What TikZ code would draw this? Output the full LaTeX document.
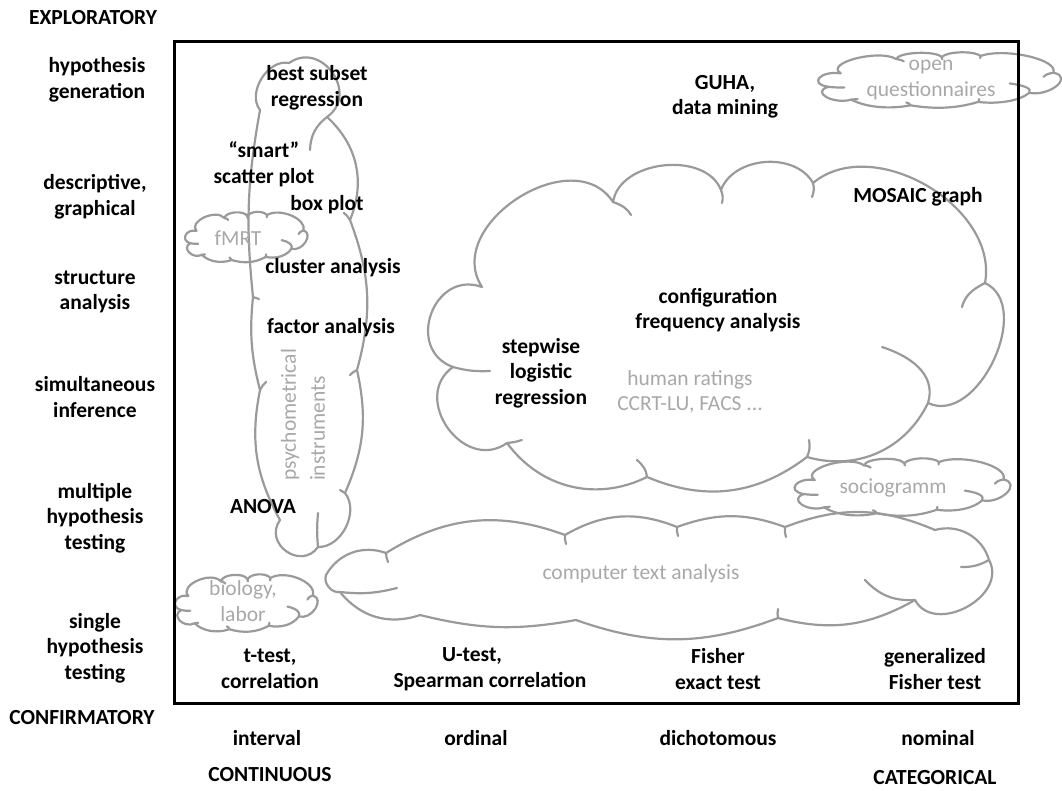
\documentclass[tikz,border=0pt]{standalone}
\usepackage{fontspec}
\setmainfont{Carlito}
\definecolor{cloudline}{HTML}{9A9A9A}
\definecolor{softtext}{HTML}{A8A8A8}
% A ten-lobed cloud in a unit box centred on the origin (v grows downward);
% scale it with xscale/yscale to the wanted width and height.
\tikzset{
  pics/puffcloud/.style={code={
    \draw[outline] (-0.4058,-0.1208)
      .. controls (-0.4754,-0.3092) and (-0.2468,-0.5691) .. (-0.1771,-0.3807)
      .. controls (-0.1660,-0.5093) and (-0.0157,-0.5385) .. (0.0113,-0.4174)
      .. controls (0.0335,-0.5208) and (0.1410,-0.5352) .. (0.1719,-0.4388)
      .. controls (0.2763,-0.5914) and (0.4962,-0.3676) .. (0.4721,-0.1330)
      .. controls (0.5581,-0.0615) and (0.4586,0.3055) .. (0.3726,0.2339)
      .. controls (0.3330,0.3765) and (0.2485,0.4428) .. (0.1614,0.3991)
      .. controls (0.0736,0.5156) and (-0.0164,0.5352) .. (-0.1178,0.4602)
      .. controls (-0.2059,0.5367) and (-0.3038,0.4951) .. (-0.3621,0.3563)
      .. controls (-0.4373,0.4498) and (-0.5316,0.2174) .. (-0.4564,0.1239)
      .. controls (-0.5410,0.0700) and (-0.4904,-0.1746) .. (-0.4058,-0.1208);
    \draw[outline] (-0.1771,-0.3807) to[bend left=20] (-0.1457,-0.3410);
    \draw[outline] (0.0113,-0.4174) to[bend left=10] (0.0131,-0.3777);
    \draw[outline] (0.1719,-0.4388) to[bend left=10] (0.1702,-0.3960);
    \draw[outline] (0.4721,-0.1330) to[bend right=20] (0.4319,-0.0596);
    \draw[outline] (0.3726,0.2339) to[bend right=35] (0.2923,0.0627);
    \draw[outline] (0.1614,0.3991) to[bend right=10] (0.1649,0.3471);
    \draw[outline] (-0.1178,0.4602) to[bend right=15] (-0.1353,0.4083);
    \draw[outline] (-0.3621,0.3563) to[bend right=10] (-0.3360,0.3471);
    \draw[outline] (-0.4564,0.1239) to[bend right=15] (-0.3918,0.1361);
  }}
}
\begin{document}
\begin{tikzpicture}[x=1pt,y=-1pt,
  lbl/.style={font=\fontsize{21.5}{25.5}\selectfont\bfseries, align=center, inner sep=0pt},
  note/.style={font=\fontsize{21.5}{25.5}\selectfont, text=softtext, align=center, inner sep=0pt},
  outline/.style={draw=cloudline, line width=2.2pt, line join=round, line cap=round},
  frame/.style={draw=black, line width=3pt},
]
\useasboundingbox (0,0) rectangle (1062,790);

% ---- large central cloud and the small ones
\pic[xscale=573, yscale=327] (bigcloud) at (714.5,326.5) {puffcloud};
\pic[xscale=122, yscale=50] (fmrtcloud) at (246,237) {puffcloud};
\pic[xscale=142, yscale=57] (biocloud) at (246,603) {puffcloud};
\pic[xscale=242, yscale=55] (opencloud) at (939,80) {puffcloud};
\pic[xscale=215, yscale=57] (sociocloud) at (902,487) {puffcloud};

% ---- tall narrow cloud (psychometrical instruments)
\draw[outline] (260,110) coordinate (t1)
  to[bend left=70] (289,63) coordinate (t2)
  to[bend left=90, looseness=1.55] (327,117) coordinate (t3)
  to[bend left=35] (350,220) coordinate (t4)
  to[bend left=18] (357,370) coordinate (t5)
  to[bend left=18] (345,493) coordinate (t6)
  to[bend left=65] (318,547) coordinate (t7)
  to[bend left=90, looseness=1.6] (280,520) coordinate (t8)
  to[bend left=20] (260,390) coordinate (t9)
  to[bend left=10] (253,297) coordinate (t10)
  to[bend left=8] (t1);
\draw[outline] (t3) to[bend right=25] (310,150);
\draw[outline] (t4) to[bend right=10] (344,213);
\draw[outline] (t5) to[bend right=10] (350,375);
\draw[outline] (t6) to[bend right=10] (340,490);
\draw[outline] (t7) to[bend left=5] (318,513);
\draw[outline] (t9) to[bend left=10] (266,382);
\draw[outline] (t10) to[bend left=10] (259,299);

% ---- wide flat cloud (computer text analysis)
\draw[outline] (326,575) coordinate (c1)
  to[bend left=40] (386,553) coordinate (c2)
  to[bend left=26] (565,535) coordinate (c3)
  to[bend left=26] (677,527) coordinate (c4)
  to[bend left=20] (785,527) coordinate (c5)
  to[bend left=22] (935,530) coordinate (c6)
  to[bend left=45] (989,560) coordinate (c7)
  to[bend left=90, looseness=1.25] (915,600) coordinate (c8)
  to[bend left=22] (778,618) coordinate (c9)
  to[bend left=20] (576,620) coordinate (c10)
  to[bend left=12] (420,615) coordinate (c11)
  to[bend left=35] (340,592) coordinate (c12)
  to[bend left=60] (c1);
\draw[outline] (c2) to[bend right=10] (388,562);
\draw[outline] (c3) to[bend right=10] (566,544);
\draw[outline] (c4) to[bend right=10] (678,536);
\draw[outline] (c5) to[bend right=10] (786,537);
\draw[outline] (c7) to[bend left=15] (961,567);
\draw[outline] (c8) to[bend left=25] (865,580);
\draw[outline] (c9) to[bend left=10] (778,609);
\draw[outline] (c12) to[bend right=10] (397,588);

% ---- frame
\draw[frame] (174,41) rectangle (1018,703);

% ---- axis labels, left
\node[lbl] (expl) at (93,18) {EXPLORATORY};
\node[lbl] (hypgen) at (97,80) {hypothesis\\generation};
\node[lbl] (descr) at (95,197) {descriptive,\\graphical};
\node[lbl] (struct) at (95,292) {structure\\analysis};
\node[lbl] (simul) at (95,397) {simultaneous\\inference};
\node[lbl] (multi) at (95,518) {multiple\\hypothesis\\testing};
\node[lbl] (single) at (95,648) {single\\hypothesis\\testing};
\node[lbl] (conf) at (82,718) {CONFIRMATORY};

% ---- axis labels, bottom
\node[lbl] (interval) at (267,738) {interval};
\node[lbl] (ordinal) at (476,738) {ordinal};
\node[lbl] (dicho) at (718,738) {dichotomous};
\node[lbl] (nominal) at (938,738) {nominal};
\node[lbl] (contin) at (270,775) {CONTINUOUS};
\node[lbl] (categ) at (935,778) {CATEGORICAL};

% ---- methods
\node[lbl] (ttest) at (270,669) {t-test,\\correlation};
\node[lbl] (utest) at (490,669) {U-test,\hspace*{36pt}\\Spearman correlation};
\node[lbl] (fisher) at (718,669) {Fisher\\exact test};
\node[lbl] (genfisher) at (935,669) {generalized\\Fisher test};
\node[lbl] (bestsub) at (317,88) {best subset\\regression};
\node[lbl] (guha) at (725,97) {GUHA,\\data mining};
\node[lbl] (smart) at (264,164) {“smart”\\scatter plot};
\node[lbl] (boxplot) at (327,205) {box plot};
\node[lbl] (mosaic) at (918,197) {MOSAIC graph};
\node[lbl] (cluster) at (333,268) {cluster analysis};
\node[lbl] (config) at (718,310) {configuration\\frequency analysis};
\node[lbl] (factor) at (331,328) {factor analysis};
\node[lbl] (stepwise) at (541,373) {stepwise\\logistic\\regression};
\node[lbl] (anova) at (263,507) {ANOVA};

% ---- data sources
\node[note] (openq) at (931,80) {open\\questionnaires};
\node[note] (fmrt) at (238,238) {fMRT};
\node[note] (human) at (690,392) {human ratings\\CCRT-LU, FACS ...};
\node[note, rotate=90, align=left, font=\fontsize{21.5}{29}\selectfont] (psy) at (303,415) {psychometrical\\instruments};
\node[note] (socio) at (893,488) {sociogramm};
\node[note] (cta) at (641,574) {computer text analysis};
\node[note] (bio) at (243,601) {biology,\\labor};
\end{tikzpicture}
\end{document}
